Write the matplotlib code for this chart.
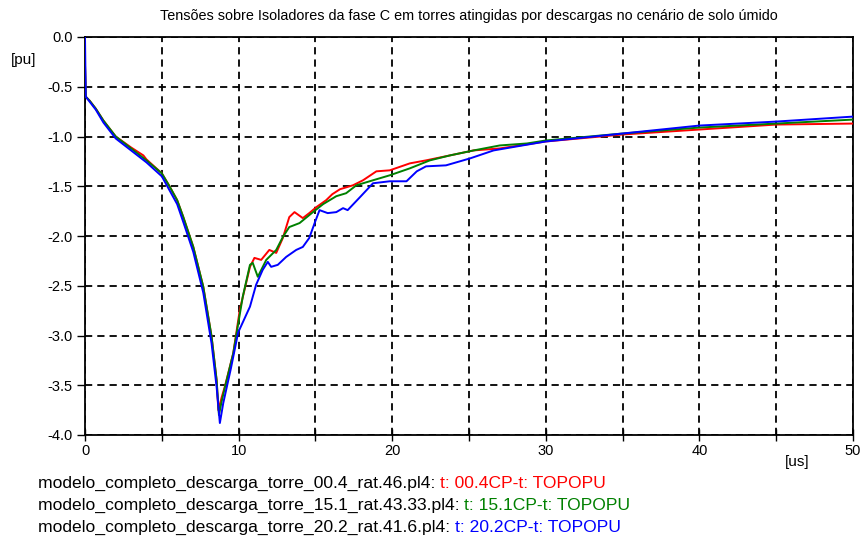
import matplotlib
matplotlib.use("Agg")
import matplotlib.pyplot as plt
from matplotlib.ticker import MultipleLocator, FixedLocator, FormatStrFormatter

plt.rcParams['font.family'] = ['Liberation Sans', 'DejaVu Sans']

# Time axis [us] and voltages [pu] for the three lightning strike scenarios
t_red = [0.0, 0.05, 0.3, 0.7, 1.2, 2.0, 3.0, 3.8, 4.0, 5.0, 5.5, 6.0, 6.4, 7.05, 7.7, 8.24, 8.57, 8.68,
         8.9, 9.11, 9.65, 10.08, 10.74, 11.03, 11.47, 12.0, 12.45, 12.88, 13.3, 13.64, 14.18, 14.6,
         15.06, 15.7, 16.1, 16.6, 17.45, 18.1, 18.97, 19.84, 21.15, 22.2, 23.76, 25.3, 27.0, 28.3,
         30.0, 35.0, 40.0, 45.0, 50.0]
v_red = [-0.28, -0.60, -0.64, -0.72, -0.84, -1.00, -1.11, -1.19, -1.23, -1.37, -1.50, -1.64, -1.81, -2.11, -2.51, -3.01, -3.45, -3.75,
         -3.62, -3.51, -3.18, -2.74, -2.31, -2.22, -2.24, -2.14, -2.17, -2.02, -1.81, -1.76, -1.82, -1.77,
         -1.71, -1.64, -1.58, -1.53, -1.49, -1.44, -1.35, -1.34, -1.27, -1.24, -1.19, -1.14, -1.12, -1.09,
         -1.05, -0.98, -0.93, -0.88, -0.87]

t_green = [0.0, 0.05, 0.3, 0.7, 1.2, 2.0, 3.0, 4.0, 5.0, 5.5, 6.0, 6.4, 7.05, 7.7, 8.24, 8.57, 8.72,
           8.9, 9.11, 9.65, 10.27, 10.74, 10.92, 11.25, 11.8, 12.45, 12.88, 13.3, 13.97, 14.84, 15.5,
           16.36, 17.0, 17.67, 18.75, 19.84, 21.15, 22.45, 23.76, 25.3, 27.0, 28.77, 30.0, 35.0, 40.0,
           45.0, 50.0]
v_green = [-0.28, -0.60, -0.64, -0.72, -0.84, -1.00, -1.12, -1.24, -1.37, -1.50, -1.64, -1.81, -2.11, -2.51, -3.01, -3.45, -3.80,
           -3.66, -3.52, -3.18, -2.61, -2.29, -2.27, -2.41, -2.24, -2.14, -2.01, -1.91, -1.87, -1.76, -1.68,
           -1.60, -1.57, -1.49, -1.44, -1.39, -1.32, -1.24, -1.19, -1.14, -1.09, -1.07, -1.04, -0.97, -0.91,
           -0.87, -0.83]

t_blue = [0.0, 0.05, 0.3, 0.7, 1.2, 2.0, 3.0, 4.0, 5.0, 5.5, 6.0, 6.4, 7.05, 7.7, 8.24, 8.57, 8.78,
          9.0, 9.5, 9.97, 10.74, 11.14, 11.57, 11.9, 12.12, 12.55, 13.1, 13.75, 14.18, 14.6, 14.95,
          15.27, 15.8, 16.36, 16.8, 17.1, 17.9, 18.75, 19.84, 20.93, 21.6, 22.2, 23.5, 25.07, 26.6,
          28.1, 30.0, 35.0, 40.0, 45.0, 50.0]
v_blue = [0.0, -0.60, -0.65, -0.73, -0.86, -1.02, -1.14, -1.26, -1.40, -1.54, -1.68, -1.86, -2.16, -2.57, -3.08, -3.52, -3.88,
          -3.68, -3.33, -2.97, -2.71, -2.49, -2.34, -2.26, -2.31, -2.29, -2.21, -2.14, -2.11, -2.02, -1.87,
          -1.74, -1.77, -1.76, -1.72, -1.74, -1.61, -1.47, -1.45, -1.45, -1.35, -1.30, -1.29, -1.22, -1.14,
          -1.10, -1.05, -0.97, -0.89, -0.85, -0.80]

file_names = ["modelo_completo_descarga_torre_00.4_rat.46.pl4: ",
              "modelo_completo_descarga_torre_15.1_rat.43.33.pl4: ",
              "modelo_completo_descarga_torre_20.2_rat.41.6.pl4: "]
series_names = ["t: 00.4CP-t: TOPOPU", "t: 15.1CP-t: TOPOPU", "t: 20.2CP-t: TOPOPU"]
colors = ["#ff0000", "#008000", "#0000ff"]

title = "Tensões sobre Isoladores da fase C em torres atingidas por descargas no cenário de solo úmido"

fig = plt.figure(figsize=(8.61, 5.42), dpi=100)
ax = fig.add_axes([85 / 861, 1 - 435 / 542, (853 - 85) / 861, (435 - 37) / 542])

ax.plot(t_red, v_red, color=colors[0], lw=1.4, zorder=3)
ax.plot(t_green, v_green, color=colors[1], lw=1.4, zorder=4)
ax.plot(t_blue, v_blue, color=colors[2], lw=1.4, zorder=5)

ax.set_xlim(0, 50)
ax.set_ylim(-4.0, 0.0)

ax.xaxis.set_major_locator(FixedLocator([0, 10, 20, 30, 40, 50]))
ax.xaxis.set_minor_locator(FixedLocator([5, 15, 25, 35, 45]))
ax.yaxis.set_major_locator(MultipleLocator(0.5))
ax.yaxis.set_major_formatter(FormatStrFormatter('%.1f'))

ax.grid(True, which='both', color='black', linestyle=(0, (4, 2.8)), linewidth=1.3)
ax.tick_params(axis='x', which='both', direction='inout', length=9, width=1.0, labelsize=10.5, pad=2)
ax.tick_params(axis='y', which='both', direction='out', length=6, width=1.0, labelsize=10.5, pad=3)
for s in ax.spines.values():
    s.set_linewidth(1.3)

ax.set_title(title, fontsize=10.4, pad=12)

fig.text(797 / 861, 1 - 462 / 542, "[us]", fontsize=11, ha='center', va='center')
fig.text(24 / 861, 1 - 60 / 542, "[pu]", fontsize=11, ha='center', va='center')

# Legend lines: file name in black followed by the coloured series name
renderer = fig.canvas.get_renderer()
for i, (fname, sname, c) in enumerate(zip(file_names, series_names, colors)):
    y = 1 - (483 + 22 * i) / 542
    t1 = fig.text(38 / 861, y, fname, fontsize=12.6, color='black', ha='left', va='center')
    bb = t1.get_window_extent(renderer=renderer)
    fig.text(bb.x1 / fig.bbox.width, y, sname, fontsize=12.6, color=c, ha='left', va='center')

fig.savefig("out.png", dpi=100)
